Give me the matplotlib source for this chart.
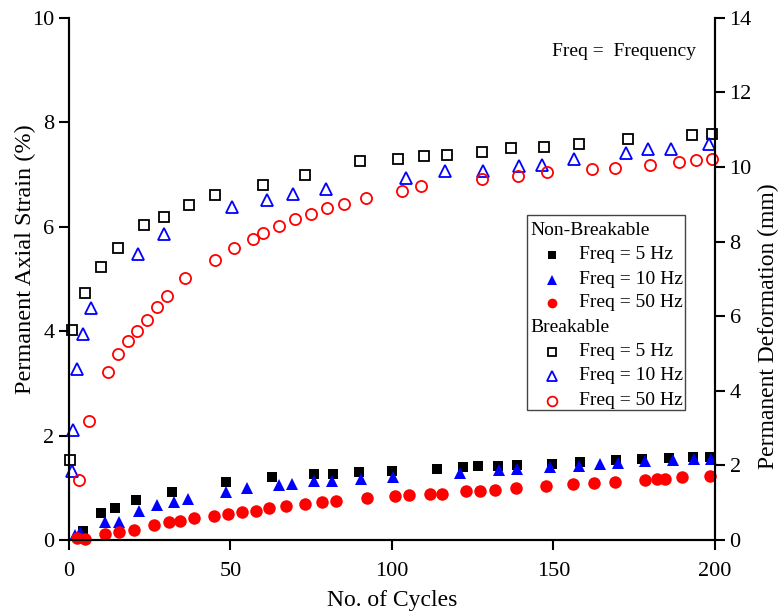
import matplotlib
matplotlib.use("Agg")
import matplotlib.pyplot as plt
from matplotlib.patches import Rectangle

plt.rcParams['font.family'] = ['Liberation Serif', 'DejaVu Serif']

# Breakable (open markers)
b5_x = [0.3, 1, 5, 10, 15.2, 23.2, 29.4, 37.2, 45.2, 60, 73, 90, 102, 110, 117, 128, 137, 147, 158, 173, 193, 199]
b5_y = [1.54, 4.03, 4.73, 5.23, 5.6, 6.04, 6.19, 6.42, 6.6, 6.8, 6.99, 7.25, 7.29, 7.35, 7.38, 7.43, 7.5, 7.53, 7.59, 7.67, 7.75, 7.77]

b10_x = [1, 1.2, 2.5, 4.3, 6.8, 21.4, 29.4, 50.5, 61.3, 69.4, 79.5, 104.3, 116.4, 128.2, 139.3, 146.4, 156.3, 172.4, 179.3, 186.4, 198.1]
b10_y = [1.33, 2.1, 3.27, 3.94, 4.44, 5.48, 5.86, 6.37, 6.52, 6.62, 6.73, 6.94, 7.07, 7.07, 7.17, 7.19, 7.3, 7.42, 7.48, 7.48, 7.58]

b50_x = [3.1, 6.2, 12.1, 15.2, 18.3, 21.1, 24.1, 27.2, 30.5, 36, 45.2, 51, 57, 60, 65, 70, 75, 80, 85, 92, 103, 109, 128, 139, 148, 162, 169, 180, 189, 194, 199]
b50_y = [1.15, 2.27, 3.21, 3.56, 3.81, 4.0, 4.21, 4.46, 4.68, 5.02, 5.37, 5.6, 5.77, 5.88, 6.02, 6.15, 6.24, 6.35, 6.43, 6.54, 6.68, 6.77, 6.92, 6.98, 7.04, 7.1, 7.13, 7.19, 7.23, 7.27, 7.29]

# Non-breakable (filled markers)
n5_x = [4.3, 10, 14.2, 20.7, 31.9, 48.6, 62.8, 75.9, 81.7, 89.8, 100, 114, 122, 126.6, 132.8, 138.7, 149.5, 158.2, 169.4, 177.4, 185.8, 193.2, 198.5]
n5_y = [0.17, 0.52, 0.62, 0.77, 0.92, 1.12, 1.21, 1.26, 1.27, 1.31, 1.33, 1.37, 1.4, 1.42, 1.42, 1.44, 1.46, 1.5, 1.53, 1.55, 1.57, 1.59, 1.59]

n10_x = [1.9, 3.4, 11, 15.4, 21.7, 27.2, 32.5, 36.8, 48.6, 55, 65, 69, 75.9, 81.4, 90.3, 100.3, 121, 133, 138.7, 149, 158, 164.4, 170, 178.3, 187, 193.5, 198.8]
n10_y = [0.1, 0.16, 0.35, 0.35, 0.56, 0.67, 0.73, 0.79, 0.92, 1.0, 1.06, 1.08, 1.13, 1.13, 1.17, 1.21, 1.29, 1.35, 1.36, 1.39, 1.42, 1.46, 1.48, 1.51, 1.53, 1.55, 1.56]

n50_x = [2.5, 5, 11, 15.5, 20, 26.3, 30.9, 34.3, 38.7, 44.9, 49.2, 53.6, 58, 62, 67.2, 73.1, 78.3, 82.7, 92.3, 101, 105.3, 111.8, 115.5, 122.9, 127.2, 132, 138.4, 147.7, 156, 162.5, 169, 178.3, 182, 184.5, 189.8, 198.5]
n50_y = [0.04, 0.02, 0.12, 0.16, 0.19, 0.29, 0.34, 0.37, 0.42, 0.46, 0.5, 0.54, 0.56, 0.61, 0.65, 0.69, 0.73, 0.75, 0.8, 0.85, 0.86, 0.88, 0.89, 0.93, 0.94, 0.96, 1.0, 1.04, 1.08, 1.1, 1.12, 1.15, 1.17, 1.17, 1.2, 1.22]

legend_headers = ["Non-Breakable", "Breakable"]
legend_labels = ["Freq = 5 Hz", "Freq = 10 Hz", "Freq = 50 Hz"]

fig = plt.figure(figsize=(7.83, 6.13), dpi=100)
ax = fig.add_axes([0.0881, 0.119, 0.825, 0.852])

BLACK, BLUE, RED = "#000000", "#0000ff", "#ff0000"
open_kw = dict(linestyle="none", markerfacecolor="none", markeredgewidth=1.3, clip_on=False, zorder=3)
fill_kw = dict(linestyle="none", markeredgewidth=0, clip_on=False, zorder=4)

ax.plot(b5_x, b5_y, marker="s", markersize=7, markeredgecolor=BLACK, **open_kw)
ax.plot(b10_x, b10_y, marker="^", markersize=8.5, markeredgecolor=BLUE, **open_kw)
ax.plot(b50_x, b50_y, marker="o", markersize=8, markeredgecolor=RED, **open_kw)
ax.plot(n5_x, n5_y, marker="s", markersize=7.5, color=BLACK, **fill_kw)
ax.plot(n10_x, n10_y, marker="^", markersize=9, color=BLUE, **fill_kw)
ax.plot(n50_x, n50_y, marker="o", markersize=9, color=RED, **fill_kw)

ax.set_xlim(0, 200)
ax.set_ylim(0, 10)
ax.set_xticks([0, 50, 100, 150, 200])
ax.set_yticks([0, 2, 4, 6, 8, 10])
for s in ax.spines.values():
    s.set_linewidth(1.5)
ax.spines['top'].set_visible(False)
ax.tick_params(axis='both', direction='out', length=7, width=1.5, labelsize=16)
ax.tick_params(axis='x', pad=9)
ax.set_xlabel("No. of Cycles", fontsize=17, va="center")
ax.xaxis.set_label_coords(0.5, -0.115)
ax.set_ylabel("Permanent Axial Strain (%)", fontsize=17.5, va="center")
ax.yaxis.set_label_coords(-0.068, 0.538)

ax2 = ax.twinx()
ax2.set_ylim(0, 14)
ax2.set_yticks([0, 2, 4, 6, 8, 10, 12, 14])
ax2.spines['top'].set_visible(False)
for s in ax2.spines.values():
    s.set_linewidth(1.5)
ax2.tick_params(axis='y', direction='out', length=7, width=1.5, labelsize=16)
ax2.set_ylabel("Permanent Deformation (mm)", fontsize=17, va="center")
ax2.yaxis.set_label_coords(1.083, 0.41)

# annotation text
ax2.text(0.748, 0.935, "Freq =  Frequency", transform=ax.transAxes, fontsize=14, va="center", ha="left")

# manual legend
lx0, lx1, ly0, ly1 = 0.709, 0.954, 0.249, 0.623
ax2.add_patch(Rectangle((lx0, ly0), lx1 - lx0, ly1 - ly0, transform=ax.transAxes,
                        facecolor="white", edgecolor="#444444", linewidth=1.0, zorder=5))
row_px = [231, 255, 280, 303, 328, 352, 376, 401]
rows = [(540 - p) / 522 for p in row_px]
hx = (530 - 69) / 646
mx = (552 - 69) / 646
tx = (579 - 69) / 646
styles = [
    [dict(marker="s", color=BLACK, markersize=6, markeredgewidth=0),
     dict(marker="^", color=BLUE, markersize=7, markeredgewidth=0),
     dict(marker="o", color=RED, markersize=7, markeredgewidth=0)],
    [dict(marker="s", markerfacecolor="none", markeredgecolor=BLACK, markersize=6, markeredgewidth=1.3),
     dict(marker="^", markerfacecolor="none", markeredgecolor=BLUE, markersize=7, markeredgewidth=1.3),
     dict(marker="o", markerfacecolor="none", markeredgecolor=RED, markersize=7, markeredgewidth=1.3)],
]
for g, header in enumerate(legend_headers):
    base = g * 4
    ax2.text(hx, rows[base], header, transform=ax.transAxes, fontsize=14, va="center", ha="left", zorder=6)
    for i, lab in enumerate(legend_labels):
        y = rows[base + 1 + i]
        ax2.plot([mx], [y], transform=ax.transAxes, linestyle="none", zorder=6, clip_on=False, **styles[g][i])
        ax2.text(tx, y, lab, transform=ax.transAxes, fontsize=14, va="center", ha="left", zorder=6)

fig.savefig("out.png", dpi=100)
